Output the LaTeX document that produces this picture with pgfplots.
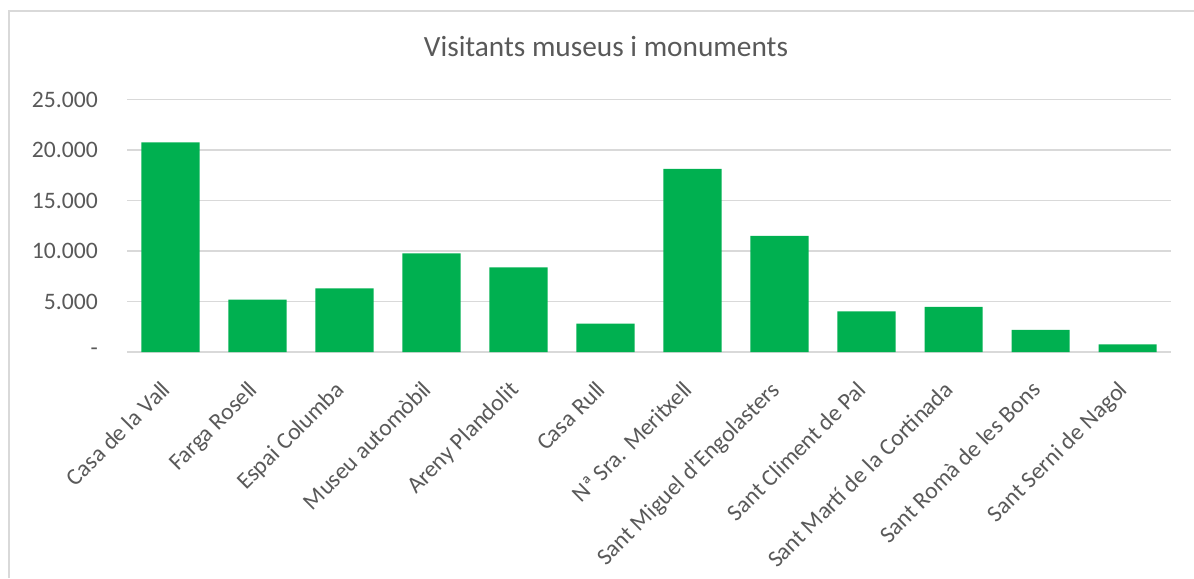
\documentclass[border=0pt]{standalone}
\usepackage{fontspec}
\setmainfont{Carlito}
\usepackage{pgfplots}
\pgfplotsset{compat=1.18}
\definecolor{barg}{HTML}{00B050}
\definecolor{txt}{HTML}{595959}
\definecolor{grd}{HTML}{D9D9D9}
\begin{document}
\begin{tikzpicture}
\path[use as bounding box] (0,0) rectangle (895.5pt,433.5pt);
\draw[grd,line width=1.1pt] (6.75pt,0) -- (6.75pt,425.25pt) -- (895.5pt,425.25pt);
\node[txt,font=\fontsize{22pt}{26pt}\selectfont] at (454.5pt,398.25pt) {Visitants museus i monuments};
\begin{axis}[
    at={(95.25pt,169.5pt)},anchor=south west,
    scale only axis,
    width=783pt,height=189.3pt,
    xmin=-0.5,xmax=11.5,
    ymin=0,ymax=25000,
    scaled y ticks=false,
    ytick={0,5000,10000,15000,20000,25000},
    yticklabels={{-\hspace{9pt}},5.000,10.000,15.000,20.000,25.000},
    xtick={0,...,11},
    xticklabels={Casa de la Vall,Farga Rosell,Espai Columba,Museu automòbil,Areny Plandolit,Casa Rull,Nª Sra. Meritxell,Sant Miguel d’Engolasters,Sant Climent de Pal,Sant Martí de la Cortinada,Sant Romà de les Bons,Sant Serni de Nagol},
    major tick length=0pt,
    axis line style={draw=none},
    ymajorgrids,
    grid style={grd,line width=1.1pt},
    tick label style={txt,font=\fontsize{17.7pt}{21pt}\selectfont},
    yticklabel style={inner sep=0pt,xshift=-21.75pt},
    xticklabel style={rotate=45,anchor=north east,inner sep=0pt,yshift=-9pt,xshift=-20pt},
]
\addplot[ybar,bar width=0.667,fill=barg,draw=none] coordinates {
(0,20770)(1,5190)(2,6310)(3,9780)(4,8390)(5,2810)
(6,18130)(7,11490)(8,4030)(9,4460)(10,2180)(11,750)};
\end{axis}
\end{tikzpicture}
\end{document}
